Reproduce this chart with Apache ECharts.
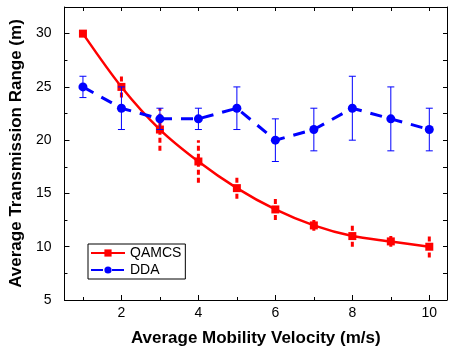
<!DOCTYPE html>
<html>
<head>
<meta charset="utf-8">
<script src="https://cdn.jsdelivr.net/npm/echarts@6/dist/echarts.min.js"></script>
<style>
  html, body { margin: 0; padding: 0; background: #fff; }
  #chart { width: 449px; height: 352px; }
</style>
</head>
<body>
<div id="chart"></div>
<script>
// velocity (m/s)
const velocity = [1, 2, 3, 4, 5, 6, 7, 8, 9, 10];
// QAMCS mean and error
const qamcs = [30, 25, 21, 18, 15.5, 13.5, 12, 11, 10.5, 10];
const qamcsErr = [0, 1, 2, 2, 1, 1, 0.5, 1, 0.5, 1];
// DDA mean, lower and upper bounds
const dda = [25, 23, 22, 22, 23, 20, 21, 23, 22, 21];
const ddaLow = [24, 21, 21, 21, 21, 18, 19, 20, 19, 19];
const ddaHigh = [26, 25, 23, 23, 25, 22, 23, 26, 25, 23];

const xLabels = [2, 4, 6, 8, 10];
const xMinor = [1, 3, 5, 7, 9];
const yLabels = [5, 10, 15, 20, 25, 30];
const yMinor = [7.5, 12.5, 17.5, 22.5, 27.5];

const font = "Liberation Sans, Arial, sans-serif";
const RED = "#ff0000";
const BLUE = "#0000ff";

const xMin = 0.52, xMax = 10.46;
const yMin = 5, yMax = 32.5;

// error bar renderer
const errBar = (color, dashed, cap) => (params, api) => {
  const x = api.value(0);
  const lo = api.coord([x, api.value(1)]);
  const hi = api.coord([x, api.value(2)]);
  const style = { stroke: color, lineWidth: dashed ? 3 : 1, lineDash: dashed ? [5, 3] : null };
  const children = [
    { type: "line", shape: { x1: lo[0], y1: lo[1], x2: hi[0], y2: hi[1] }, style },
  ];
  if (cap) {
    children.push(
      { type: "line", shape: { x1: lo[0] - cap, y1: lo[1], x2: lo[0] + cap, y2: lo[1] }, style },
      { type: "line", shape: { x1: hi[0] - cap, y1: hi[1], x2: hi[0] + cap, y2: hi[1] }, style }
    );
  }
  return { type: "group", children };
};

const hiddenAxis = (extra) => Object.assign({
  type: "value",
  axisLine: { show: false },
  axisLabel: { show: false },
  splitLine: { show: false },
}, extra);

const option = {
  animation: false,
  textStyle: { fontFamily: font },
  grid: { left: 57, right: 2, top: 7, bottom: 52 },
  legend: {
    data: ["QAMCS", "DDA"],
    orient: "vertical",
    left: 88,
    top: 244,
    backgroundColor: "#fff",
    borderColor: "#000",
    borderWidth: 1,
    borderRadius: 0,
    padding: [2, 4, 2, 2],
    itemGap: 3,
    itemWidth: 34,
    itemHeight: 9,
    textStyle: { fontSize: 14, color: "#000", fontFamily: font },
  },
  xAxis: [
    {
      type: "value",
      position: "bottom",
      min: xMin,
      max: xMax,
      name: "Average Mobility Velocity (m/s)",
      nameLocation: "middle",
      nameGap: 30,
      nameTextStyle: { fontSize: 17, fontWeight: "bold", color: "#000", fontFamily: font },
      axisLine: { lineStyle: { color: "#000", width: 1 } },
      axisTick: { inside: true, length: 5, customValues: xLabels, lineStyle: { color: "#000" } },
      axisLabel: { customValues: xLabels, fontSize: 14, color: "#000", margin: 6 },
      splitLine: { show: false },
    },
    hiddenAxis({
      position: "bottom", min: xMin, max: xMax, offset: 0,
      axisTick: { inside: true, length: 3, customValues: xMinor, lineStyle: { color: "#000" } },
    }),
    {
      type: "value",
      position: "top",
      min: xMin,
      max: xMax,
      axisLine: { show: true, lineStyle: { color: "#000", width: 1 } },
      axisTick: { inside: true, length: 4, customValues: velocity, lineStyle: { color: "#000" } },
      axisLabel: { show: false },
      splitLine: { show: false },
    },
  ],
  yAxis: [
    {
      type: "value",
      position: "left",
      min: yMin,
      max: yMax,
      name: "Average Transmission Range (m)",
      nameLocation: "middle",
      nameGap: 36,
      nameTextStyle: { fontSize: 17, fontWeight: "bold", color: "#000", fontFamily: font },
      axisLine: { show: true, lineStyle: { color: "#000", width: 1 } },
      axisTick: { show: true, inside: true, length: 5, customValues: yLabels, lineStyle: { color: "#000" } },
      axisLabel: { customValues: yLabels, fontSize: 14, color: "#000", margin: 13 },
      splitLine: { show: false },
    },
    hiddenAxis({
      position: "left", min: yMin, max: yMax, offset: 0,
      axisTick: { show: true, inside: true, length: 3, customValues: yMinor, lineStyle: { color: "#000" } },
    }),
    {
      type: "value",
      position: "right",
      min: yMin,
      max: yMax,
      axisLine: { show: true, lineStyle: { color: "#000", width: 1 } },
      axisTick: { show: true, inside: true, length: 4, customValues: yLabels.concat(yMinor), lineStyle: { color: "#000" } },
      axisLabel: { show: false },
      splitLine: { show: false },
    },
  ],
  series: [
    {
      type: "custom",
      name: "qamcsErr",
      renderItem: errBar(RED, true, 0),
      data: velocity.map((v, i) => [v, qamcs[i] - qamcsErr[i], qamcs[i] + qamcsErr[i]]),
      z: 2,
    },
    {
      type: "line",
      name: "QAMCS",
      data: velocity.map((v, i) => [v, qamcs[i]]),
      smooth: 0.3,
      symbol: "rect",
      symbolSize: 8,
      color: RED,
      lineStyle: { color: RED, width: 2.5 },
      itemStyle: { color: RED },
      z: 3,
    },
    {
      type: "custom",
      name: "ddaErr",
      renderItem: errBar(BLUE, false, 3.5),
      data: velocity.map((v, i) => [v, ddaLow[i], ddaHigh[i]]),
      z: 4,
    },
    {
      type: "line",
      name: "DDA",
      data: velocity.map((v, i) => [v, dda[i]]),
      symbol: "circle",
      symbolSize: 9,
      color: BLUE,
      lineStyle: { color: BLUE, width: 3, type: [12, 9] },
      itemStyle: { color: BLUE },
      z: 5,
    },
  ],
};

const myChart = echarts.init(document.getElementById("chart"));
myChart.setOption(option);
</script>
</body>
</html>
